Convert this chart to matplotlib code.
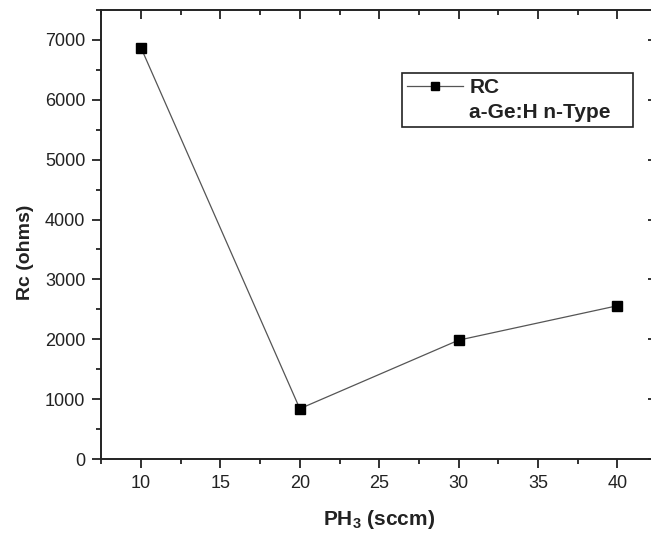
import matplotlib
matplotlib.use("Agg")
import matplotlib.pyplot as plt
from matplotlib.lines import Line2D
from matplotlib.ticker import MultipleLocator

plt.rcParams['font.family'] = ['Liberation Sans', 'DejaVu Sans']
plt.rcParams['mathtext.fontset'] = 'custom'
plt.rcParams['mathtext.bf'] = 'Liberation Sans:bold'
plt.rcParams['mathtext.rm'] = 'Liberation Sans'

# data
ph3_sccm = [10, 20, 30, 40]
rc_ohms = [6870, 840, 1985, 2560]
x_label = r'PH$_\mathbf{3}$ (sccm)'
y_label = 'Rc (ohms)'
legend_labels = ['RC', 'a-Ge:H n-Type']

W, H = 651, 535
fig = plt.figure(figsize=(W / 100, H / 100), dpi=100)
left_px, right_px, top_px, bot_px = 101.3, 657.1, 10, 459
aw, ah = right_px - left_px, bot_px - top_px
ax = fig.add_axes([left_px / W, (H - bot_px) / H, aw / W, ah / H])

ax.plot(ph3_sccm, rc_ohms, color='#555555', lw=0.9, marker='s', ms=7.5,
        mfc='black', mec='black', zorder=3)

ax.set_xlim(7.5, 42.5)
ax.set_ylim(0, 7500)
ax.xaxis.set_major_locator(MultipleLocator(5))
ax.xaxis.set_minor_locator(MultipleLocator(2.5))
ax.yaxis.set_major_locator(MultipleLocator(1000))
ax.yaxis.set_minor_locator(MultipleLocator(500))

for s in ax.spines.values():
    s.set_linewidth(1.4)
    s.set_color('#222222')

ax.tick_params(which='both', direction='out', width=1.3, color='#222222',
               labelsize=13, labelcolor='#222222')
ax.tick_params(which='major', length=6.5, pad=5)
ax.tick_params(which='minor', length=3.6)
ax.tick_params(which='both', top=True, right=True)
# top/right ticks point inward
for t in ax.xaxis.get_ticklines(minor=False)[1::2] + ax.xaxis.get_ticklines(minor=True)[1::2]:
    t.set_marker(3)
for t in ax.yaxis.get_ticklines(minor=False)[1::2] + ax.yaxis.get_ticklines(minor=True)[1::2]:
    t.set_marker(0)

ax.set_xlabel(x_label, fontsize=15, fontweight='bold', color='#222222')
ax.set_ylabel(y_label, fontsize=14, fontweight='bold', color='#222222')
ax.xaxis.label.set_va('baseline')
ax.xaxis.set_label_coords(0.5, (bot_px - 525) / ah)
ax.yaxis.label.set_va('center')
ax.yaxis.set_label_coords((25 - left_px) / aw, (bot_px - 252) / ah)

handles = [Line2D([], [], color='#555555', lw=0.9, marker='s', ms=6, mfc='black', mec='black'),
           Line2D([], [], color='none', lw=0)]
bx0, bx1, by0, by1 = 401.7, 633, 72.7, 129
leg = ax.legend(handles, legend_labels, loc='upper left', mode='expand',
                bbox_to_anchor=((bx0 - left_px) / aw, (bot_px - by1) / ah,
                                (bx1 - bx0) / aw, (by1 - by0) / ah),
                borderaxespad=0, fancybox=False, framealpha=1, edgecolor='#222222',
                prop={'weight': 'bold', 'size': 15}, handlelength=2.7, handletextpad=0.3,
                labelspacing=0.3, borderpad=0.25)
leg.get_frame().set_linewidth(1.2)
for t in leg.get_texts():
    t.set_color('#222222')

fig.savefig('out.png', dpi=100)
